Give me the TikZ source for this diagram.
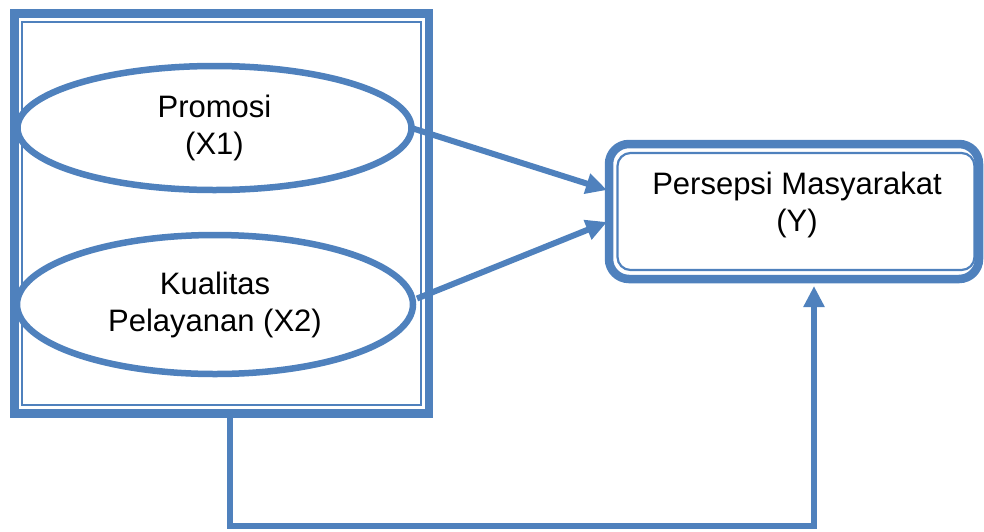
\documentclass[tikz,border=0pt]{standalone}
\usepackage{fontspec}
\setmainfont{Liberation Sans}
\usetikzlibrary{arrows.meta,shapes.geometric,calc}
\definecolor{ob}{HTML}{4F81BD}
\begin{document}
\begin{tikzpicture}[x=1pt,y=-1pt,
  txt/.style={font=\fontsize{31}{37}\selectfont, align=center, inner sep=0pt},
  thickbox/.style={draw=ob, line width=8.5pt, inner sep=0pt, outer sep=0pt},
  thinbox/.style={draw=ob, line width=2.2pt, inner sep=0pt, outer sep=0pt},
  oval/.style={ellipse, draw=ob, line width=6.5pt, fill=white, inner sep=0pt, outer sep=0pt, txt},
  conn/.style={draw=ob, line width=6pt, -{Triangle[length=21pt,width=20pt]}}]
\useasboundingbox (0,0) rectangle (984,531);
% left group
\node[thickbox, minimum width=414.5pt, minimum height=400pt] (grp) at (221.75,213.5) {};
\node[thinbox, minimum width=399pt, minimum height=383pt] (grpin) at (221.5,213.5) {};
\node[oval, minimum width=394pt, minimum height=124pt] (e1) at (214.5,128) {Promosi\\(X1)};
\node[oval, minimum width=396pt, minimum height=139pt] (e2) at (215,304.5) {Kualitas\\Pelayanan (X2)};
% right box
\node[thickbox, rounded corners=20pt, minimum width=370pt, minimum height=135pt] (ybox) at (794,211.5) {};
\node[thinbox, rounded corners=13pt, minimum width=357pt, minimum height=117pt] (yin) at (796,211.5) {};
\node[txt] (ytxt) at (797,205) {Persepsi Masyarakat\\(Y)};
% connectors
\coordinate (t1) at ($(ybox.west)+(-2,-21.5)$);
\coordinate (t2) at ($(ybox.west)+(-2,10.5)$);
\coordinate (s2) at ($(e2.east)+(4,-6)$);
\coordinate (s3) at ($(grp.south)+(8.5,3.5)$);
\coordinate (t3) at ($(ybox.south)+(20,7)$);
\draw[conn] (e1.east) -- (t1);
\draw[conn] (s2) -- (t2);
\draw[conn] (s3) |- (814,526) -- (t3);
\end{tikzpicture}
\end{document}
